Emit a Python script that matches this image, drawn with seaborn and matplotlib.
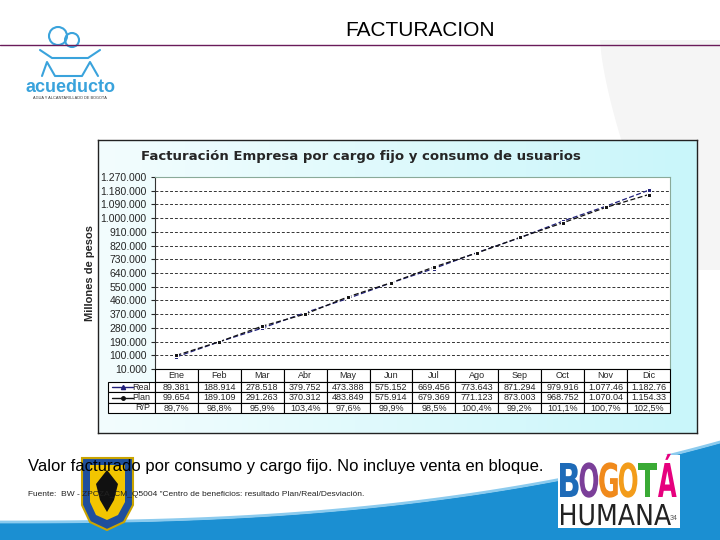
import numpy as np
import pandas as pd
import seaborn as sns
import matplotlib.pyplot as plt
import matplotlib.transforms as mtransforms
from matplotlib.patches import Rectangle, Polygon, PathPatch
from matplotlib.textpath import TextPath
from matplotlib.font_manager import FontProperties

# Data
meses = ['Ene', 'Feb', 'Mar', 'Abr', 'May', 'Jun', 'Jul', 'Ago', 'Sep', 'Oct', 'Nov', 'Dic']
real = [89381, 188914, 278518, 379752, 473388, 575152, 669456, 773643, 871294, 979916, 1077460, 1182760]
plan = [99654, 189109, 291263, 370312, 483849, 575914, 679369, 771123, 873003, 968752, 1070040, 1154330]
real_txt = ['89.381', '188.914', '278.518', '379.752', '473.388', '575.152', '669.456',
            '773.643', '871.294', '979.916', '1.077.46', '1.182.76']
plan_txt = ['99.654', '189.109', '291.263', '370.312', '483.849', '575.914', '679.369',
            '771.123', '873.003', '968.752', '1.070.04', '1.154.33']
rp_txt = ['89,7%', '98,8%', '95,9%', '103,4%', '97,6%', '99,9%', '98,5%',
          '100,4%', '99,2%', '101,1%', '100,7%', '102,5%']
yticks = list(range(10000, 1270001, 90000))

sns.set_style('white')
plt.rcParams['font.family'] = ['Liberation Sans', 'DejaVu Sans']

W, H = 720, 540
fig = plt.figure(figsize=(7.2, 5.4), dpi=100)


def box(x0, y0, x1, y1):
    # pixel box (top-left origin) -> figure fraction rect
    return [x0 / W, 1 - y1 / H, (x1 - x0) / W, (y1 - y0) / H]


def word(ax, s, x0, baseline, width, cap, color, family='DejaVu Sans', weight='bold'):
    # text drawn as a path, squeezed to a given width and cap height
    fp = FontProperties(family=family, weight=weight)
    tp = TextPath((0, 0), s, size=1, prop=fp)
    ext = tp.get_extents()
    caph = TextPath((0, 0), 'H', size=1, prop=fp).get_extents().height
    tr = mtransforms.Affine2D().translate(-ext.x0, 0).scale(width / ext.width, -cap / caph) \
        .translate(x0, baseline)
    ax.add_patch(PathPatch(tr.transform_path(tp), fc=color, lw=0, zorder=6))


# slide background: faint swoosh on the right, blue wave at the bottom
bg = fig.add_axes([0, 0, 1, 1])
bg.set_xlim(0, W)
bg.set_ylim(H, 0)
bg.axis('off')
t = np.linspace(0, 1, 60)
bg.add_patch(Polygon(np.column_stack([np.r_[600 + 70 * t, 720, 720], np.r_[40 + 230 * t**0.7, 270, 40]]),
                     closed=True, color='#f5f5f5', lw=0))
xs = np.linspace(0, 720, 100)
wave = 523 - 80 * (xs / 720) ** 2.5
bg.add_patch(Polygon(np.column_stack([np.r_[xs, 720, 0], np.r_[wave, 540, 540]]),
                     closed=True, color='#1b8fd2', lw=0))
bg.plot(xs, wave - 1, color='#8ccbee', lw=2)
bg.plot([0, 720], [45, 45], color='#6a1b5a', lw=1.0)
bg.text(420, 31, 'FACTURACION', ha='center', va='center', fontsize=15, color='black')

# acueducto logo (simplified)
bg.text(70, 88, 'acueducto', ha='center', va='center', fontsize=13, color='#3aa3dc', fontweight='bold')
bg.text(70, 98, 'AGUA Y ALCANTARILLADO DE BOGOTÁ', ha='center', va='center', fontsize=2.8, color='#333333')
for cx, cy, r in [(58, 36, 9), (72, 40, 7)]:
    bg.add_patch(plt.Circle((cx, cy), r, fill=False, ec='#3aa3dc', lw=1.5))
bg.plot([40, 52, 88, 100], [50, 58, 58, 50], color='#3aa3dc', lw=1.5)
bg.plot([42, 47, 55, 82, 90, 98], [76, 62, 76, 76, 62, 76], color='#3aa3dc', lw=1.5)

# chart frame with light cyan gradient
grad = fig.add_axes(box(98, 140, 697, 433))
grad.imshow(np.linspace(0, 1, 200)[None, :], cmap=plt.matplotlib.colors.LinearSegmentedColormap.from_list(
    'c', ['#f3fdfe', '#c9f6fa']), aspect='auto', extent=[0, 1, 0, 1])
grad.set_xticks([])
grad.set_yticks([])
for s in grad.spines.values():
    s.set_color('#222222')
    s.set_linewidth(1.0)

# line chart
ax = fig.add_axes(box(155, 177, 670, 369))
df = pd.DataFrame({'pos': list(range(12)) * 2, 'valor': real + plan,
                   'serie': ['Real'] * 12 + ['Plan'] * 12})
sns.lineplot(data=df, x='pos', y='valor', hue='serie', style='serie',
             palette={'Real': '#1f1f7a', 'Plan': '#111111'},
             dashes={'Real': (4, 2), 'Plan': (4, 2)},
             markers={'Real': 's', 'Plan': 's'}, markersize=3.5, linewidth=0.9,
             legend=False, ax=ax, zorder=3)
ax.set_xlim(-0.5, 11.5)
ax.set_ylim(10000, 1270000)
ax.set_yticks(yticks)
ax.set_yticklabels([f'{v:,}'.replace(',', '.') for v in yticks], fontsize=7.5)
ax.set_xticks([])
ax.set_xlabel('')
ax.set_ylabel('Millones de pesos', fontsize=8, fontweight='bold', labelpad=4)
ax.tick_params(axis='y', length=3, pad=3, left=True, direction='out')
for v in yticks[1:]:
    ax.axhline(v, color='#333333', lw=0.7, ls=(0, (3, 2)), zorder=1)
ax.set_facecolor('white')
for s in ax.spines.values():
    s.set_color('#8aaa99')
    s.set_linewidth(0.8)
ax.spines['left'].set_color('#333333')
ax.set_title('Facturación Empresa por cargo fijo y consumo de usuarios',
             fontsize=9.5, fontweight='bold', pad=12, x=0.4, family='DejaVu Sans')

# data table under the chart
tax = fig.add_axes(box(108, 369, 670, 413))
tax.axis('off')
rows = [['Real'] + real_txt, ['Plan'] + plan_txt, ['R/P'] + rp_txt]
cw = [47 / 562] + [515 / 12 / 562] * 12
tbl = tax.table(cellText=rows, colLabels=[''] + meses, colWidths=cw, bbox=[0, 0, 1, 1], cellLoc='center')
tbl.auto_set_font_size(False)
tbl.set_fontsize(6.5)
for (r, c), cell in tbl.get_celld().items():
    cell.set_edgecolor('black')
    cell.set_linewidth(0.8)
    if r == 0:
        cell.set_height(0.3)
        if c == 0:
            cell.set_visible(False)
    else:
        cell.set_height(0.7 / 3)
    if c == 0 and r > 0:
        cell.get_text().set_ha('right')
        cell._loc = 'right'
tax.plot([0.008, 0.044], [0.58, 0.58], color='#1f1f7a', lw=1, transform=tax.transAxes, clip_on=False)
tax.plot([0.026], [0.58], marker='^', ms=3, color='#1f1f7a', transform=tax.transAxes, clip_on=False)
tax.plot([0.008, 0.044], [0.35, 0.35], color='#111111', lw=1, transform=tax.transAxes, clip_on=False)
tax.plot([0.026], [0.35], marker='o', ms=2.5, color='#111111', transform=tax.transAxes, clip_on=False)

# escudo (simplified)
shield = np.array([[82, 458], [133, 458], [133, 505], [124, 522], [107, 530], [90, 522], [82, 505]])
bg.add_patch(Polygon(shield, closed=True, fc='#1e4f9c', ec='#c9a400', lw=1.5, zorder=4))
inner = np.array([[90, 465], [125, 465], [125, 502], [118, 515], [107, 520], [96, 515], [90, 502]])
bg.add_patch(Polygon(inner, closed=True, fc='#f2c500', lw=0, zorder=4))
bg.add_patch(Polygon(np.array([[107, 470], [118, 484], [114, 500], [107, 512], [100, 500], [96, 484]]),
                     closed=True, fc='#111111', lw=0, zorder=4))

# footer texts
bg.text(28, 466, 'Valor facturado por consumo y cargo fijo. No incluye venta en bloque.',
        ha='left', va='center', fontsize=12, color='black', zorder=5)
bg.text(28, 494, 'Fuente:  BW - ZPCZA_CM_Q5004 "Centro de beneficios: resultado Plan/Real/Desviación.',
        ha='left', va='center', fontsize=6, color='#222222', zorder=5)

# Bogotá Humana logo
bg.add_patch(Rectangle((558, 455), 122, 73, fc='white', lw=0, zorder=4))
letras = ['B', 'O', 'G', 'O', 'T', 'Á']
colores = ['#1e6bb8', '#7b3f99', '#f08a1c', '#f39c1a', '#3aaa35', '#e6007e']
for i, (l, c) in enumerate(zip(letras, colores)):
    word(bg, l, 560 + i * 19.6, 497, 18.6, 34, c, weight='heavy')
word(bg, 'HUMANA', 561, 525, 110, 21, '#222222', family='DejaVu Sans', weight='normal')
bg.text(674, 518, '34', ha='center', va='center', fontsize=5, color='#555555', zorder=7)

fig.savefig('out.png', dpi=100)
